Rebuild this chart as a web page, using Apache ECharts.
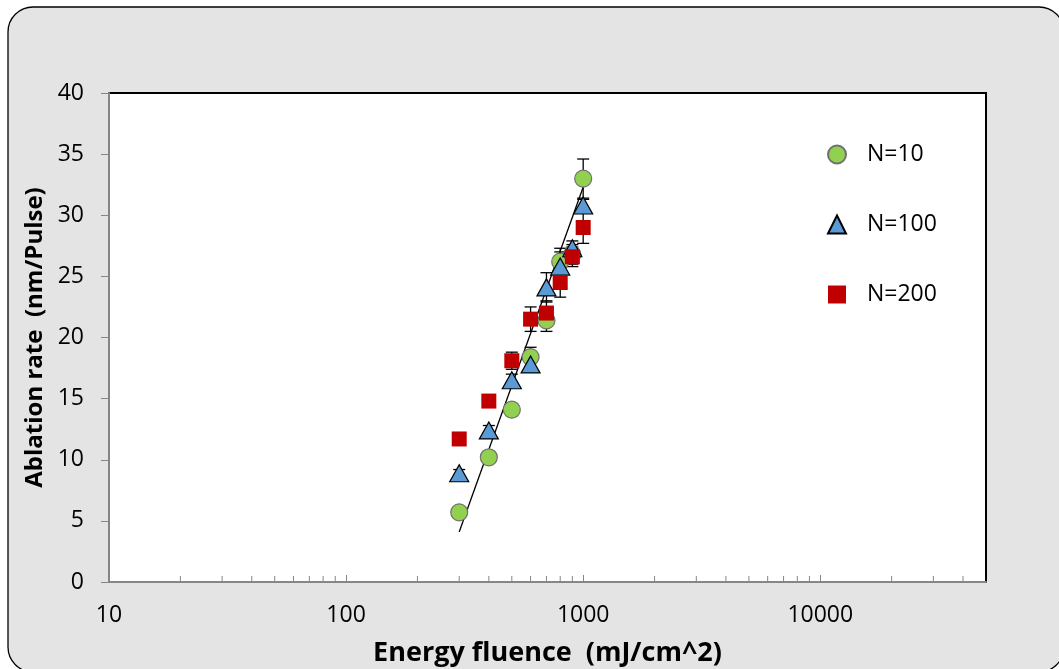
<!DOCTYPE html>
<html>
<head>
<meta charset="utf-8">
<script src="https://cdn.jsdelivr.net/npm/echarts@6/dist/echarts.min.js"></script>
<style>
  html, body { margin: 0; padding: 0; background: #ffffff; }
  #chart { width: 1059px; height: 669px; }
</style>
</head>
<body>
<div id="chart"></div>
<script>
// Energy fluence values (mJ/cm^2)
const fluence = [300, 400, 500, 600, 700, 800, 900, 1000];

// Ablation rate (nm/pulse) for each pulse count, with error half-widths
const rateN10  = [5.7, 10.2, 14.1, 18.4, 21.4, 26.2, 26.8, 33.0];
const errN10   = [0.3, 0.3, 0.5, 0.8, 0.9, 1.1, 0.8, 1.6];
const rateN100 = [8.9, 12.4, 16.5, 17.8, 24.1, 25.8, 27.3, 30.8];
const errN100  = [0.3, 0.4, 0.5, 0.5, 1.2, 1.2, 0.6, 0.5];
const rateN200 = [11.7, 14.8, 18.1, 21.5, 22.0, 24.5, 26.6, 29.0];
const errN200  = [0.2, 0.5, 0.7, 1.0, 1.0, 1.2, 0.8, 1.3];

// Logarithmic trend line end points
const trendX = [300, 1000];
const trendY = [4.1, 32.3];

// Minor tick positions on the log fluence axis
const minorTicks = [20, 30, 40, 50, 60, 70, 80, 90,
                    200, 300, 400, 500, 600, 700, 800, 900,
                    2000, 3000, 4000, 5000, 6000, 7000, 8000, 9000,
                    20000, 30000, 40000];

const yTicks = { min: 0, max: 40, interval: 5 };

const FONT = 'Open Sans';

function pairs(xs, ys) { return xs.map((x, i) => [x, ys[i]]); }

function errorData(xs, ys, es) { return xs.map((x, i) => [x, ys[i] - es[i], ys[i] + es[i]]); }

function errorSeries(data) {
  return {
    type: 'custom',
    z: 1,
    silent: true,
    data: data,
    renderItem: function (params, api) {
      const lo = api.coord([api.value(0), api.value(1)]);
      const hi = api.coord([api.value(0), api.value(2)]);
      const w = 6;
      const st = { stroke: '#000', lineWidth: 1.3 };
      return {
        type: 'group',
        children: [
          { type: 'line', shape: { x1: hi[0], y1: hi[1], x2: lo[0], y2: lo[1] }, style: st },
          { type: 'line', shape: { x1: hi[0] - w, y1: hi[1], x2: hi[0] + w, y2: hi[1] }, style: st },
          { type: 'line', shape: { x1: lo[0] - w, y1: lo[1], x2: lo[0] + w, y2: lo[1] }, style: st }
        ]
      };
    }
  };
}

const chart = echarts.init(document.getElementById('chart'), null, { renderer: 'canvas' });

chart.setOption({
  animation: false,
  backgroundColor: 'transparent',
  graphic: [{
    type: 'rect',
    z: -10,
    silent: true,
    shape: { x: 8, y: 7, width: 1056, height: 665, r: 25 },
    style: { fill: '#e4e4e4', stroke: '#000', lineWidth: 1.3 }
  }],
  grid: {
    left: 109, right: 73, top: 93, bottom: 87,
    outerBoundsMode: 'none',
    containLabel: false,
    show: true,
    backgroundColor: '#ffffff',
    borderColor: '#000000',
    borderWidth: 2
  },
  legend: {
    orient: 'vertical',
    left: 822,
    top: 138,
    itemWidth: 18,
    itemHeight: 18,
    itemGap: 47,
    textStyle: { fontFamily: FONT, fontSize: 23, color: '#000', padding: [0, 0, 0, 16], lineHeight: 23 },
    data: ['N=10', 'N=100', 'N=200']
  },
  xAxis: {
    type: 'log',
    logBase: 10,
    min: 10,
    max: 50000,
    name: 'Energy fluence  (mJ/cm^2)',
    nameLocation: 'middle',
    nameGap: 58,
    nameTextStyle: { fontFamily: FONT, fontSize: 27, fontWeight: 'bold', color: '#000' },
    axisLine: { show: true, onZero: false, lineStyle: { color: '#868686', width: 2 } },
    axisTick: { show: true, inside: true, length: 7, lineStyle: { color: '#868686', width: 1 } },
    axisLabel: {
      fontFamily: FONT, fontSize: 23, color: '#000', margin: 22,
      showMaxLabel: false,
      formatter: function (v) {
        const e = Math.log10(v);
        return Math.abs(e - Math.round(e)) < 1e-6 ? String(Math.round(v)) : '';
      }
    },
    splitLine: { show: false }
  },
  yAxis: {
    type: 'value',
    min: yTicks.min,
    max: yTicks.max,
    interval: yTicks.interval,
    name: 'Ablation rate  (nm/Pulse)',
    nameLocation: 'middle',
    nameGap: 62,
    nameTextStyle: { fontFamily: FONT, fontSize: 24, fontWeight: 'bold', color: '#000' },
    axisLine: { show: true, lineStyle: { color: '#868686', width: 2 } },
    axisTick: { show: true, inside: false, length: 8, lineStyle: { color: '#868686', width: 1 } },
    axisLabel: { fontFamily: FONT, fontSize: 23, color: '#000', margin: 25 },
    splitLine: { show: false }
  },
  series: [
    {
      // minor ticks for the logarithmic axis
      type: 'custom',
      silent: true,
      z: 5,
      clip: false,
      data: minorTicks.map(v => [v, 0]),
      renderItem: function (params, api) {
        const p = api.coord([api.value(0), 0]);
        return {
          type: 'line',
          shape: { x1: p[0], y1: p[1] - 1, x2: p[0], y2: p[1] - 6 },
          style: { stroke: '#868686', lineWidth: 1 }
        };
      }
    },
    {
      type: 'line',
      data: pairs(trendX, trendY),
      symbol: 'none',
      silent: true,
      z: 2,
      lineStyle: { color: '#000', width: 1.4 }
    },
    errorSeries(errorData(fluence, rateN10, errN10)),
    errorSeries(errorData(fluence, rateN100, errN100)),
    errorSeries(errorData(fluence, rateN200, errN200)),
    {
      name: 'N=10',
      type: 'scatter',
      z: 3,
      data: pairs(fluence, rateN10),
      symbol: 'circle',
      symbolSize: 17,
      itemStyle: { color: '#92D050', borderColor: '#707070', borderWidth: 1.2, opacity: 1 }
    },
    {
      name: 'N=100',
      type: 'scatter',
      z: 4,
      data: pairs(fluence, rateN100),
      symbol: 'triangle',
      symbolSize: [19, 17],
      itemStyle: { color: '#5B9BD5', borderColor: '#000', borderWidth: 1.2, opacity: 1 }
    },
    {
      name: 'N=200',
      type: 'scatter',
      z: 5,
      data: pairs(fluence, rateN200),
      symbol: 'rect',
      symbolSize: 15,
      itemStyle: { color: '#C00000', opacity: 1 }
    }
  ]
});
</script>
</body>
</html>
